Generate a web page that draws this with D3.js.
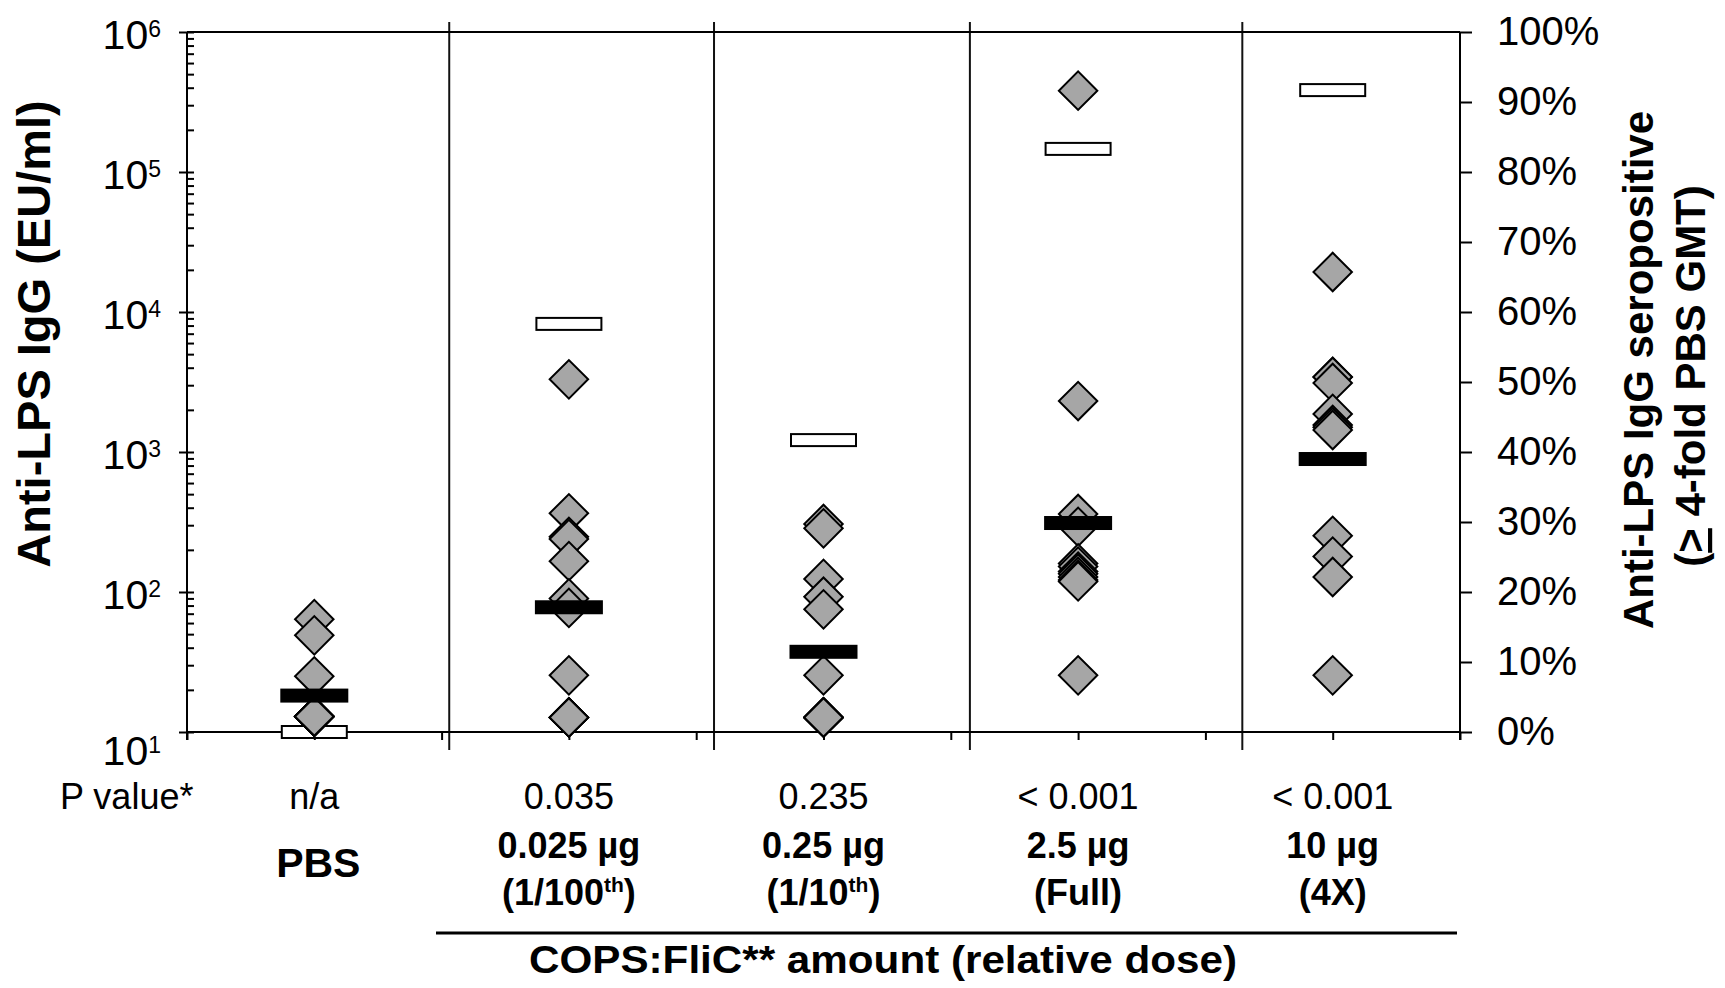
<!DOCTYPE html>
<html>
<head>
<meta charset="utf-8">
<script src="https://cdn.jsdelivr.net/npm/d3@7/dist/d3.min.js"></script>
<style>
html,body{margin:0;padding:0;background:#fff;}
svg{display:block;}
text{font-family:"Liberation Sans",Arial,Helvetica,sans-serif;fill:#000;}
</style>
</head>
<body>
<svg id="chart" width="1725" height="988"></svg>
<script>
// ---------------- data ----------------
const categories = ["PBS", "0.025 µg", "0.25 µg", "2.5 µg", "10 µg"];
const relativeDose = ["", "(1/100th)", "(1/10th)", "(Full)", "(4X)"];
const pValues = ["n/a", "0.035", "0.235", "< 0.001", "< 0.001"];

// individual anti-LPS IgG titers (EU/ml), 12 animals per group
const titersPBS   = [64, 49, 25, 12.9, 12.9, 12.9, 12.9, 12.9, 12.9, 12.9, 12.9, 12.9];
const titers0025  = [3304, 365, 248, 239, 166, 90, 77, 25.4, 12.7, 12.7, 12.7, 12.7];
const titers025   = [306, 285, 124, 92.5, 75.2, 25.4, 12.7, 12.7, 12.7, 12.7, 12.7, 12.7];
const titers25    = [381000, 2312, 361, 292, 160, 152, 140, 135, 128, 122, 119, 25.4];
const titers10    = [19300, 3435, 3435, 3112, 1870, 1560, 1500, 1436, 252, 179, 128, 25.4];

// geometric mean titers (black bars) and % seropositive (open bars, right axis)
const gmtValues = [18.2, 77.8, 37.4, 311, 891];
const seropositivePct = [0, 58.3, 41.7, 83.3, 91.7];

const leftTickValues = [1e1, 1e2, 1e3, 1e4, 1e5, 1e6];
const rightTickValues = [0, 10, 20, 30, 40, 50, 60, 70, 80, 90, 100];

const titerSets = [titersPBS, titers0025, titers025, titers25, titers10];

// ---------------- layout ----------------
const L = 187, R = 1460, T = 32, B = 732;
const svg = d3.select("#chart");

const x = d3.scaleBand().domain(categories).range([L, R]).paddingInner(0).paddingOuter(0);
const cx = c => x(c) + x.bandwidth() / 2;
const xu = d3.scaleLinear().domain([0, categories.length]).range([L, R]); // category units
const y = d3.scaleLog().domain([10, 1e6]).range([B, T]);
const y2 = d3.scaleLinear().domain([0, 100]).range([B, T]);

const separatorsAt = [1.03, 2.07, 3.075, 4.145]; // hand-drawn group separators (category units)

// separators
svg.append("g").selectAll("line").data(separatorsAt).join("line")
  .attr("x1", d => xu(d)).attr("x2", d => xu(d))
  .attr("y1", 22).attr("y2", 750)
  .attr("stroke", "#111").attr("stroke-width", 2);

// frame lines
const frame = svg.append("g").attr("stroke", "#000").attr("stroke-width", 2);
frame.append("line").attr("x1", L).attr("x2", R).attr("y1", T).attr("y2", T);
frame.append("line").attr("x1", L).attr("x2", R).attr("y1", B).attr("y2", B);
frame.append("line").attr("x1", L).attr("x2", L).attr("y1", T).attr("y2", B + 8);
frame.append("line").attr("x1", R).attr("x2", R).attr("y1", T).attr("y2", B + 8);

// left axis: major ticks (crossing)
const gL = svg.append("g").attr("transform", `translate(${L},0)`)
  .call(d3.axisLeft(y).tickValues(leftTickValues).tickSize(8).tickSizeOuter(0).tickFormat(""));
gL.select(".domain").remove();
gL.selectAll(".tick line").attr("x1", 7).attr("stroke-width", 2);

// left axis: minor ticks (inside)
const minors = [];
for (let e = 1; e < 6; e++) for (let m = 2; m < 10; m++) minors.push(m * Math.pow(10, e));
const gLm = svg.append("g").attr("transform", `translate(${L},0)`)
  .call(d3.axisRight(y).tickValues(minors).tickSize(7).tickSizeOuter(0).tickFormat(""));
gLm.select(".domain").remove();
gLm.selectAll(".tick line").attr("stroke-width", 2);

// left axis labels 10^n
const lab = svg.append("g");
leftTickValues.forEach((v, i) => {
  const e = Math.round(Math.log10(v));
  const base = y(v) + (i === 0 ? 33 : 17);
  const t = lab.append("text").attr("x", 161).attr("y", base)
    .attr("text-anchor", "end").attr("font-size", 41);
  t.append("tspan").text("10");
  t.append("tspan").attr("font-size", 23).attr("dy", -12).text(e);
});

// right axis
const gR = svg.append("g").attr("transform", `translate(${R},0)`)
  .call(d3.axisRight(y2).tickValues(rightTickValues).tickSize(12).tickSizeOuter(0)
    .tickPadding(25).tickFormat(d => d + "%"));
gR.select(".domain").remove();
gR.selectAll(".tick line").attr("stroke-width", 2);
gR.selectAll(".tick text").attr("font-size", 40).attr("fill", "#000");

// bottom axis ticks
const gB = svg.append("g").attr("transform", `translate(0,${B})`)
  .call(d3.axisBottom(xu).tickValues(d3.range(0, categories.length * 2 + 1).map(k => k / 2))
    .tickSize(8).tickSizeOuter(0).tickFormat(""));
gB.select(".domain").remove();
gB.selectAll(".tick line").attr("stroke-width", 2);

// ---------------- marks ----------------
// % seropositive (open bars)
svg.append("g").selectAll("rect").data(categories).join("rect")
  .attr("x", c => cx(c) - 32.5).attr("width", 65)
  .attr("y", (c, i) => y2(seropositivePct[i]) - 6).attr("height", 12)
  .attr("fill", "#fff").attr("stroke", "#000").attr("stroke-width", 2);

// individual titers (diamonds)
const diamond = d3.symbol().type(d3.symbolSquare).size(740)();
const pts = [];
titerSets.forEach((arr, i) => arr.forEach(v => pts.push({ c: categories[i], v })));
svg.append("g").selectAll("path").data(pts).join("path")
  .attr("d", diamond)
  .attr("transform", d => `translate(${cx(d.c)},${y(d.v)}) rotate(45)`)
  .attr("fill", "#a6a6a6").attr("stroke", "#000").attr("stroke-width", 2);

// GMT (black bars)
svg.append("g").selectAll("rect").data(categories).join("rect")
  .attr("x", c => cx(c) - 34).attr("width", 68)
  .attr("y", (c, i) => y(gmtValues[i]) - 7).attr("height", 14)
  .attr("fill", "#000");

// ---------------- texts ----------------
const txt = svg.append("g");
txt.append("text").attr("x", 60).attr("y", 809).attr("font-size", 36).text("P value*");
categories.forEach((c, i) => {
  txt.append("text").attr("x", cx(c)).attr("y", 809).attr("text-anchor", "middle")
    .attr("font-size", 36).text(pValues[i]);
  if (i === 0) {
    txt.append("text").attr("x", cx(c) + 4).attr("y", 877).attr("text-anchor", "middle")
      .attr("font-size", 41).attr("font-weight", "bold").text(c);
  } else {
    txt.append("text").attr("x", cx(c)).attr("y", 858).attr("text-anchor", "middle")
      .attr("font-size", 36).attr("font-weight", "bold").text(c);
    const t = txt.append("text").attr("x", cx(c)).attr("y", 905).attr("text-anchor", "middle")
      .attr("font-size", 36).attr("font-weight", "bold");
    const m = relativeDose[i].match(/^(.*?)(th)(\).*)$/);
    if (m) {
      t.append("tspan").text(m[1]);
      t.append("tspan").attr("font-size", 21).attr("dy", -13).text(m[2]);
      t.append("tspan").attr("dy", 13).text(m[3]);
    } else {
      t.text(relativeDose[i]);
    }
  }
});

// bracket line under doses
svg.append("line").attr("x1", 436).attr("x2", 1457).attr("y1", 933).attr("y2", 933)
  .attr("stroke", "#000").attr("stroke-width", 3);
txt.append("text").attr("x", 883).attr("y", 973).attr("text-anchor", "middle")
  .attr("font-size", 38).attr("font-weight", "bold")
  .attr("textLength", 708).attr("lengthAdjust", "spacingAndGlyphs")
  .text("COPS:FliC** amount (relative dose)");

// left axis title
txt.append("text").attr("transform", "translate(50,334) rotate(-90)")
  .attr("text-anchor", "middle").attr("font-size", 47).attr("font-weight", "bold")
  .text("Anti-LPS IgG (EU/ml)");

// right axis title (two lines)
txt.append("text").attr("transform", "translate(1653,370) rotate(-90)")
  .attr("text-anchor", "middle").attr("font-size", 42).attr("font-weight", "bold")
  .text("Anti-LPS IgG seropositive");
const rt = txt.append("text").attr("transform", "translate(1705,376) rotate(-90)")
  .attr("text-anchor", "middle").attr("font-size", 42).attr("font-weight", "bold");
rt.append("tspan").text("(");
rt.append("tspan").attr("text-decoration", "underline").text(">");
rt.append("tspan").text(" 4-fold PBS GMT)");
</script>
</body>
</html>
